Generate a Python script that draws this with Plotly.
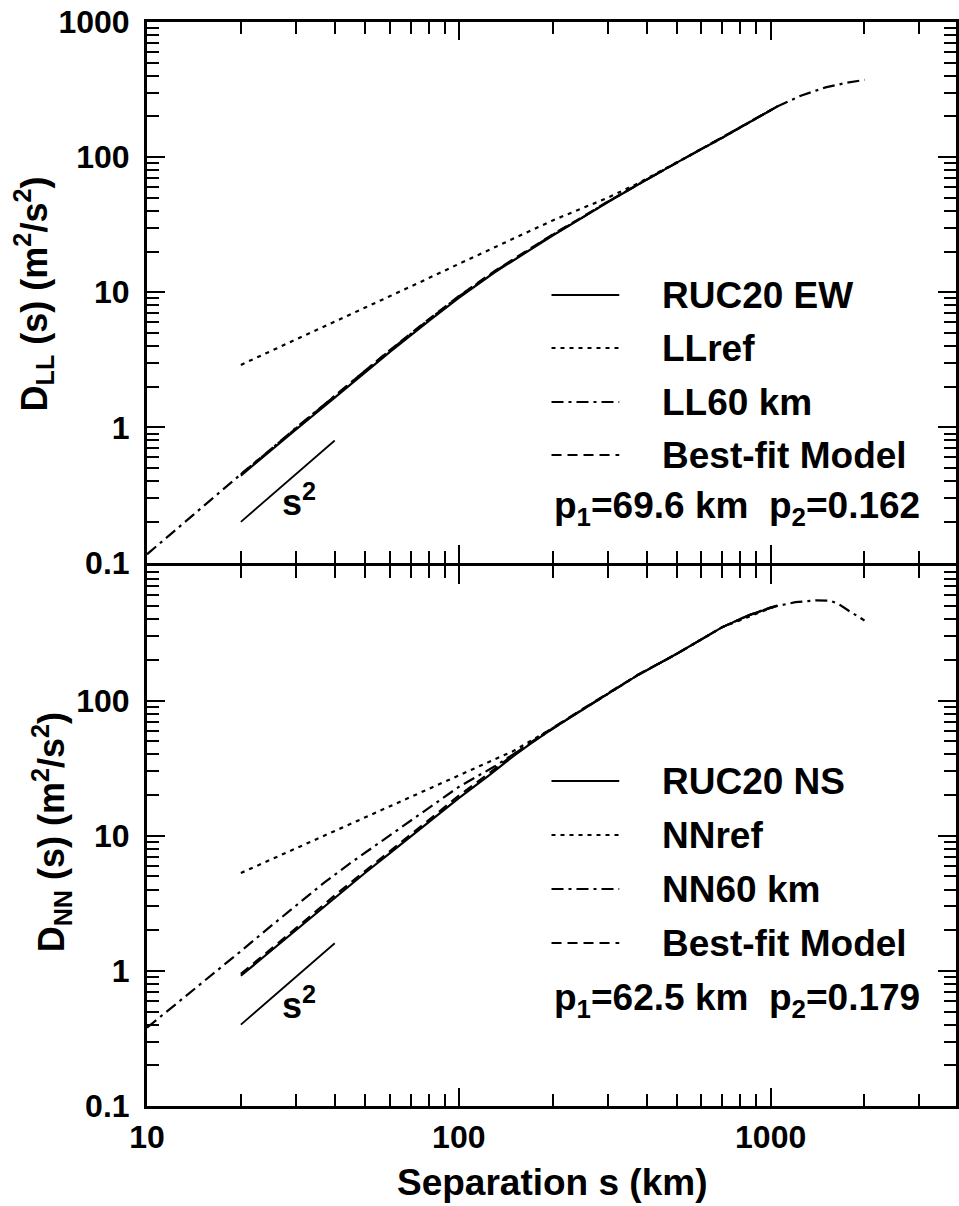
import plotly.graph_objects as go

# ---------------- data ----------------
# s^2 reference segments
s2_s = [20, 40]
s2_top = [0.2, 0.8]
s2_bot = [0.4, 1.6]

# Top panel: D_LL
ew_s = [20, 25, 30, 40, 50, 60, 80, 100, 130, 170, 200, 250, 300, 376, 500, 700, 1050]
ruc20_ew = [0.44, 0.67, 0.96, 1.66, 2.55, 3.6, 6.1, 9.1, 14.0, 20.8, 26.3, 35.8, 46.3, 62.6, 91, 139, 237]
best_ew = [0.45, 0.69, 0.99, 1.72, 2.64, 3.72, 6.3, 9.35, 14.3, 21.2, 26.8, 36.3, 46.8, 63.0, 91, 139, 237]

ll60_s = [10, 12, 15, 20, 25, 30, 40, 50, 60, 80, 100, 130, 170, 200, 250, 300, 376, 500, 700, 1050, 1250, 1500, 1750, 2000]
ll60 = [0.115, 0.165, 0.255, 0.45, 0.69, 0.99, 1.71, 2.62, 3.7, 6.25, 9.3, 14.2, 21.0, 26.6, 36.0, 46.5, 62.8, 91, 139, 237, 285, 328, 355, 373]

llref_s = [20, 30, 50, 70, 100, 150, 200, 300, 376, 500, 700, 1050]
llref = [2.9, 4.45, 7.7, 11.0, 16.2, 25.0, 34.0, 50, 64, 91.5, 139, 237]

# Bottom panel: D_NN
ns_s = [20, 25, 30, 40, 50, 60, 70, 85, 100, 125, 150, 170, 200, 250, 300, 376, 500, 700, 850, 1050]
ruc20_ns = [0.92, 1.41, 2.0, 3.5, 5.3, 7.4, 9.8, 14, 19, 28, 39, 48, 62, 86, 112, 155, 222, 350, 428, 505]
best_ns = [0.95, 1.45, 2.06, 3.62, 5.5, 7.7, 10.2, 14.6, 19.8, 29, 40, 49, 63, 87, 113, 156, 222, 350, 428, 505]

nn60_s = [10, 15, 20, 25, 30, 37, 45, 60, 80, 100, 130, 170, 200, 250, 300, 376, 500, 700, 850, 1000, 1200, 1400, 1550, 1650, 1800, 2000]
nn60 = [0.38, 0.81, 1.4, 2.15, 3.05, 4.5, 6.3, 10, 16, 23, 32.5, 48.5, 62.5, 86.5, 112, 155, 222, 350, 428, 490, 535, 552, 550, 520, 455, 392]

nnref_s = [20, 30, 50, 70, 100, 150, 200, 250, 300, 376, 500, 700, 1050]
nnref = [5.3, 8.05, 13.6, 19.3, 27.8, 42.5, 62.5, 86.5, 112, 155, 222, 350, 505]

y_tickvals = [0.1, 1, 10, 100, 1000]
y_ticktext_top = ["0.1", "1", "10", "100", "1000"]
y_ticktext_bot = ["0.1", "1", "10", "100", ""]
x_tickvals = [10, 100, 1000]
x_ticktext = ["10", "100", "1000"]

legend_top = ["RUC20 EW", "LLref", "LL60 km", "Best-fit Model"]
legend_bot = ["RUC20 NS", "NNref", "NN60 km", "Best-fit Model"]
params_top = "p<sub>1</sub>=69.6 km&nbsp;&nbsp;p<sub>2</sub>=0.162"
params_bot = "p<sub>1</sub>=62.5 km&nbsp;&nbsp;p<sub>2</sub>=0.179"

# ---------------- layout helpers ----------------
W, H = 959, 1206
L, R, T, B = 147, 0, 22, 100
PW = W - L - R
PH = H - T - B
FONT = "Liberation Sans, Arial, Helvetica, sans-serif"
LW = 3  # frame line width

def px(x):
    return (x - L) / PW

def py(y):
    return (H - B - y) / PH

SOLID = "solid"
DOT = "4px,5px"
DASHDOT = "12px,5px,3px,5px"
DASH = "10px,6px"

fig = go.Figure()

def add_line(x, y, dash, xa, ya, width=2.2):
    fig.add_trace(go.Scatter(x=x, y=y, mode="lines",
                             line=dict(color="black", width=width, dash=dash),
                             xaxis=xa, yaxis=ya, showlegend=False, hoverinfo="skip"))

# top panel (x2, y2)
add_line(llref_s, llref, DOT, "x2", "y2")
add_line(ll60_s, ll60, DASHDOT, "x2", "y2")
add_line(ew_s, best_ew, DASH, "x2", "y2")
add_line(ew_s, ruc20_ew, SOLID, "x2", "y2")
add_line(s2_s, s2_top, SOLID, "x2", "y2", width=1.8)

# bottom panel (x, y)
add_line(nnref_s, nnref, DOT, "x", "y")
add_line(nn60_s, nn60, DASHDOT, "x", "y")
add_line(ns_s, best_ns, DASH, "x", "y")
add_line(ns_s, ruc20_ns, SOLID, "x", "y")
add_line(s2_s, s2_bot, SOLID, "x", "y", width=1.8)

def minor_vals(lo, hi):
    v = []
    d = lo
    while d < hi:
        for k in range(2, 10):
            if k * d <= hi:
                v.append(k * d)
        d *= 10
    return v

tickfont = dict(family=FONT, size=32, color="black", weight="bold")

common_x = dict(type="log", range=[1, 3.5945], tickmode="array", tickvals=x_tickvals,
                ticks="inside", ticklen=18, tickwidth=2, tickcolor="black",
                showline=True, linewidth=LW, linecolor="black", mirror="ticks",
                showgrid=False, zeroline=False,
                minor=dict(tickmode="array", tickvals=minor_vals(10, 4000), ticks="inside",
                           ticklen=12, tickwidth=2, tickcolor="black", showgrid=False))
common_y = dict(type="log", range=[-1, 3], tickmode="array", tickvals=y_tickvals,
                ticks="inside", ticklen=18, tickwidth=2, tickcolor="black",
                showline=True, linewidth=LW, linecolor="black", mirror="ticks",
                showgrid=False, zeroline=False, tickfont=tickfont, ticklabelstandoff=8,
                minor=dict(tickmode="array", tickvals=minor_vals(0.1, 1000), ticks="inside",
                           ticklen=12, tickwidth=2, tickcolor="black", showgrid=False))

gap = (LW / 2) / PH  # so the two panels' boundary lines coincide
fig.update_layout(
    width=W, height=H,
    margin=dict(l=L, r=R, t=T, b=B, pad=0),
    paper_bgcolor="white", plot_bgcolor="white",
    showlegend=False,
    xaxis=dict(**common_x, anchor="y", domain=[0, 1], ticktext=x_ticktext,
               tickfont=tickfont, ticklabelstandoff=1),
    xaxis2=dict(**common_x, anchor="y2", matches="x", showticklabels=False),
    yaxis=dict(**common_y, anchor="x", domain=[0, 0.5 - gap], ticktext=y_ticktext_bot),
    yaxis2=dict(**common_y, anchor="x2", domain=[0.5 + gap, 1], ticktext=y_ticktext_top),
)

ann = []
def text(x, y, s, size=36, xanchor="left", angle=0):
    ann.append(dict(x=px(x), y=py(y), xref="paper", yref="paper", text="<b>" + s + "</b>",
                    showarrow=False, xanchor=xanchor, yanchor="middle", textangle=angle,
                    font=dict(family=FONT, size=size, color="black")))

# axis titles
text(553, 1182, "Separation s (km)", size=37, xanchor="center")
text(33, 294, "D<sub>LL</sub> (s) (m<sup>2</sup>/s<sup>2</sup>)", size=36, xanchor="center", angle=-90)
text(51, 832, "D<sub>NN</sub> (s) (m<sup>2</sup>/s<sup>2</sup>)", size=36, xanchor="center", angle=-90)

# s^2 labels
text(300, 500, "s<sup>2</sup>", size=36, xanchor="center")
text(300, 1003, "s<sup>2</sup>", size=36, xanchor="center")

# legends
styles = [SOLID, DOT, DASHDOT, DASH]
rows_top = [295, 348, 402, 455]
rows_bot = [781, 835, 889, 943]
shapes = []
for lab, st, yy in zip(legend_top, styles, rows_top):
    text(662, yy, lab, size=37)
    shapes.append(dict(type="line", xref="paper", yref="paper", x0=px(553), x1=px(621),
                       y0=py(yy), y1=py(yy), line=dict(color="black", width=2, dash=st)))
for lab, st, yy in zip(legend_bot, styles, rows_bot):
    text(662, yy, lab, size=37)
    shapes.append(dict(type="line", xref="paper", yref="paper", x0=px(553), x1=px(621),
                       y0=py(yy), y1=py(yy), line=dict(color="black", width=2, dash=st)))
text(553, 508, params_top, size=37)
text(553, 1000, params_bot, size=37)

fig.update_layout(annotations=ann, shapes=shapes)
fig.write_html("out.html")
